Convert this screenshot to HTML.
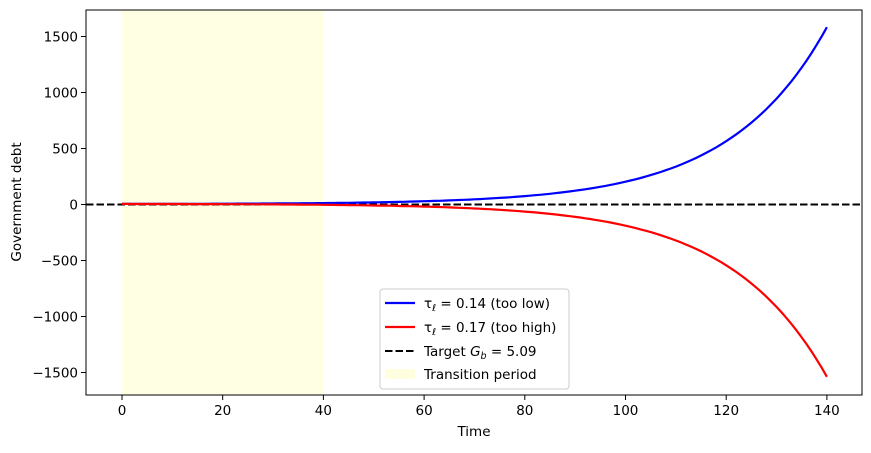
<!DOCTYPE html>
<html><head><meta charset="utf-8"><style>
body{margin:0;background:#fff}
svg text{font-family:"DejaVu Sans","Liberation Sans",sans-serif;font-size:13.5px;fill:#000}
</style></head><body>
<svg id="s" width="871" height="448" xmlns="http://www.w3.org/2000/svg">
<rect width="871" height="448" fill="#fff"/>
<rect x="122" y="10" width="201.4" height="385" fill="#ffffe0" opacity="0.9"/>
<line x1="86" y1="204.5" x2="862" y2="204.5" stroke="#000" stroke-width="2" stroke-dasharray="7.5,3"/>
<path id="pb" fill="none" stroke="#0000ff" stroke-width="2.2"/>
<path id="pr" fill="none" stroke="#ff0000" stroke-width="2.2"/>
<rect x="86" y="10" width="776" height="385" fill="none" stroke="#000" stroke-width="1"/>
<g id="ticks" stroke="#000"></g>
<g id="labels"></g>
<text x="474" y="436" text-anchor="middle">Time</text>
<text transform="translate(21,202) rotate(-90)" text-anchor="middle">Government debt</text>
<rect x="380" y="289" width="189" height="100" rx="3" fill="#fff" fill-opacity="0.8" stroke="#ccc"/>
<line x1="385" y1="303" x2="415" y2="303" stroke="#0000ff" stroke-width="2.2"/>
<line x1="385" y1="327" x2="415" y2="327" stroke="#ff0000" stroke-width="2.2"/>
<line x1="385" y1="351" x2="415" y2="351" stroke="#000" stroke-width="2" stroke-dasharray="7.5,3"/>
<rect x="385" y="369" width="30" height="10" fill="#ffffe0"/>
<text x="424" y="308">τ<tspan font-size="9.5" dy="3">ℓ</tspan><tspan dy="-3"> = 0.14 (too low)</tspan></text>
<text x="424" y="332">τ<tspan font-size="9.5" dy="3">ℓ</tspan><tspan dy="-3"> = 0.17 (too high)</tspan></text>
<text x="424" y="356">Target <tspan font-style="italic">G</tspan><tspan font-size="9.5" font-style="italic" dy="3">b</tspan><tspan dy="-3"> = 5.09</tspan></text>
<text x="424" y="379">Transition period</text>
</svg>
<script>
var X=t=>122+5.035*t, Y=v=>204.5-0.112*v, r=0.0517;
var b="",rd="";
for(var t=0;t<=140;t+=1){var e=Math.exp(r*t)-1;
b+=(t?"L":"M")+X(t).toFixed(1)+","+Y(5+1.135*e).toFixed(1);
rd+=(t?"L":"M")+X(t).toFixed(1)+","+Y(5-1.11*e).toFixed(1);}
document.getElementById("pb").setAttribute("d",b);
document.getElementById("pr").setAttribute("d",rd);
var g=document.getElementById("ticks"),l=document.getElementById("labels");
var tk="",lb="";
for(var t=0;t<=140;t+=20){tk+='<line x1="'+X(t)+'" y1="395" x2="'+X(t)+'" y2="400"/>';lb+='<text x="'+X(t)+'" y="415" text-anchor="middle">'+t+'</text>';}
for(var v=-1500;v<=1500;v+=500){tk+='<line x1="81" y1="'+Y(v)+'" x2="86" y2="'+Y(v)+'"/>';lb+='<text x="78" y="'+(Y(v)+5)+'" text-anchor="end">'+(v<0?"−"+(-v):v)+'</text>';}
g.innerHTML=tk;l.innerHTML=lb;
</script>
</body></html>
